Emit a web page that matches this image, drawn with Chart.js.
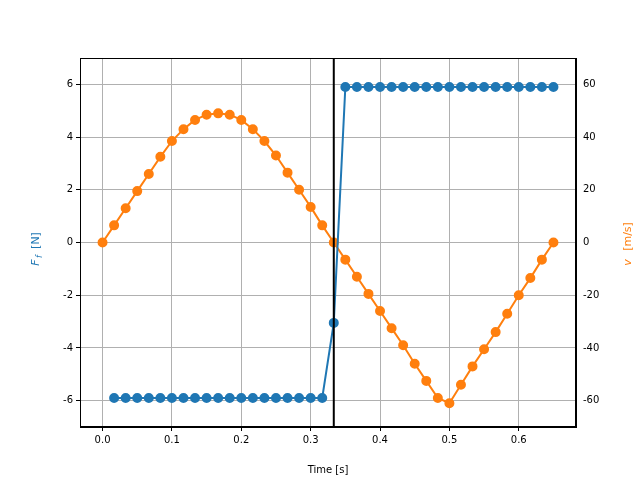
<!DOCTYPE html>
<html>
<head>
<script src="https://cdn.jsdelivr.net/npm/chart.js@4"></script>
<style>body{margin:0;background:#fff}</style>
</head>
<body>
<canvas id="c" width="640" height="480"></canvas>
<script>
// time steps in units of 1/60 s
const tForce = [1,2,3,4,5,6,7,8,9,10,11,12,13,14,15,16,17,18,19,20,21,22,23,24,25,26,27,28,29,30,31,32,33,34,35,36,37,38,39];
const force = [-5.9,-5.9,-5.9,-5.9,-5.9,-5.9,-5.9,-5.9,-5.9,-5.9,-5.9,-5.9,-5.9,-5.9,-5.9,-5.9,-5.9,-5.9,-5.9,-3.05,
  5.9,5.9,5.9,5.9,5.9,5.9,5.9,5.9,5.9,5.9,5.9,5.9,5.9,5.9,5.9,5.9,5.9,5.9,5.9];
const tVel = [0,1,2,3,4,5,6,7,8,9,10,11,12,13,14,15,16,17,18,19,20,21,22,23,24,25,26,27,28,29,30,31,32,33,34,35,36,37,38,39];
const vel = [0,6.5,13,19.5,26,32.5,38.5,43,46.5,48.5,49,48.5,46.5,43,38.5,33,26.5,20,13.5,6.5,0,
  -6.5,-13,-19.5,-26,-32.5,-39,-46,-52.5,-59,-61,-54,-47,-40.5,-34,-27,-20,-13.5,-6.5,0];
const switchTime = 1/3;
const leftTicks = [-6,-4,-2,0,2,4,6];
const rightTicks = [-60,-40,-20,0,20,40,60];
const xTicks = [0,0.1,0.2,0.3,0.4,0.5,0.6];

const blue = '#1f77b4', orange = '#ff7f0e';
const font = {family: 'DejaVu Sans', size: 10};
const pts = (ts, ys) => ts.map((t, i) => ({x: t/60, y: ys[i]}));

new Chart(document.getElementById('c'), {
  type: 'scatter',
  data: {datasets: [
    {data: [{x: switchTime, y: -7}, {x: switchTime, y: 7}], yAxisID: 'y', showLine: true,
     borderColor: '#000', borderWidth: 2, pointRadius: 0},
    {data: pts(tForce, force), yAxisID: 'y', showLine: true, borderColor: blue, backgroundColor: blue,
     borderWidth: 2, pointRadius: 4},
    {data: pts(tVel, vel), yAxisID: 'y2', showLine: true, borderColor: orange, backgroundColor: orange,
     borderWidth: 2, pointRadius: 4}
  ]},
  options: {
    responsive: false, animation: false,
    layout: {padding: {top: 58, right: 0, left: 0, bottom: 0}},
    plugins: {legend: {display: false}, tooltip: {enabled: false}},
    scales: {
      x: {type: 'linear', min: -0.0325, max: 0.6825,
        afterBuildTicks: a => { a.ticks = xTicks.map(v => ({value: v})); },
        afterFit: a => { a.height = 53; },
        ticks: {color: '#000', font, callback: v => v.toFixed(1)},
        grid: {color: '#b0b0b0', tickColor: '#000', tickLength: 4},
        border: {color: '#000'},
        title: {display: true, text: 'Time [s]', color: '#000', font: {family: 'DejaVu Sans', size: 10}}},
      y: {position: 'left', min: -7, max: 7,
        afterBuildTicks: a => { a.ticks = leftTicks.map(v => ({value: v})); },
        afterFit: a => { a.width = 80; },
        ticks: {color: '#000', font},
        grid: {color: '#b0b0b0', tickColor: '#000', tickLength: 4},
        border: {color: '#000'}},
      y2: {position: 'right', min: -70, max: 70,
        afterBuildTicks: a => { a.ticks = rightTicks.map(v => ({value: v})); },
        afterFit: a => { a.width = 64; },
        ticks: {color: '#000', font},
        grid: {display: false, drawOnChartArea: false, tickColor: '#000', tickLength: 4},
        border: {color: '#000'}}
    }
  },
  plugins: [{id: 'frame', afterDraw(c) {
    const a = c.chartArea, g = c.ctx, mid = (a.top + a.bottom) / 2;
    g.save(); g.strokeStyle = '#000'; g.lineWidth = 1;
    g.strokeRect(a.left + 0.5, a.top + 0.5, a.right - a.left - 1, a.bottom - a.top - 1);
    g.textAlign = 'center'; g.textBaseline = 'middle';
    // left title: F_f [N]
    g.translate(36, mid); g.rotate(-Math.PI / 2);
    g.fillStyle = blue;
    g.font = 'italic 11px DejaVu Sans'; g.fillText('F', -20, 0);
    g.font = 'italic 8px DejaVu Sans'; g.fillText('f', -14, 4);
    g.font = '11px DejaVu Sans'; g.fillText('[N]', 2, 0);
    g.setTransform(1, 0, 0, 1, 0, 0);
    // right title: v [m/s]
    g.translate(628, mid); g.rotate(-Math.PI / 2);
    g.fillStyle = orange;
    g.font = 'italic 11px DejaVu Sans'; g.fillText('v', -20, 0);
    g.font = '11px DejaVu Sans'; g.fillText('[m/s]', 6, 0);
    g.restore();
  }}]
});
</script>
</body>
</html>
